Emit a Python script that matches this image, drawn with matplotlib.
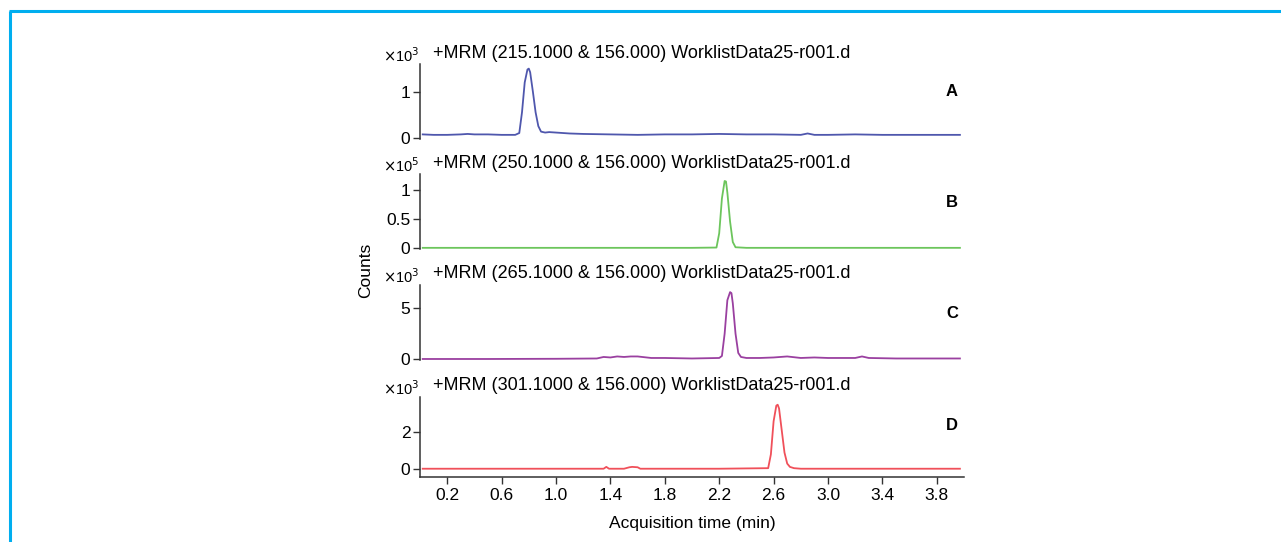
import matplotlib
matplotlib.use('Agg')
import matplotlib.pyplot as plt

W, H = 1281, 542

# trace A, x10^3 counts
tA = [0.02, 0.1, 0.2, 0.3, 0.35, 0.4, 0.5, 0.6, 0.7, 0.73, 0.75, 0.77, 0.79, 0.80, 0.81, 0.83, 0.85, 0.87, 0.89,
      0.92, 0.95, 1.0, 1.1, 1.2, 1.4, 1.6, 1.8, 2.0, 2.2, 2.4, 2.6, 2.8, 2.85, 2.9, 3.0, 3.2, 3.4, 3.6, 3.8, 3.97]
vA = [0.07, 0.06, 0.06, 0.07, 0.08, 0.07, 0.07, 0.06, 0.06, 0.10, 0.55, 1.20, 1.48, 1.50, 1.42, 1.00, 0.55, 0.25, 0.13,
      0.11, 0.12, 0.11, 0.09, 0.08, 0.07, 0.06, 0.07, 0.07, 0.08, 0.07, 0.07, 0.06, 0.09, 0.06, 0.06, 0.07, 0.06, 0.06, 0.06, 0.06]

# trace B, x10^5 counts
tB = [0.02, 1.0, 2.0, 2.18, 2.20, 2.22, 2.24, 2.25, 2.26, 2.28, 2.30, 2.32, 2.4, 3.0, 3.97]
vB = [0, 0, 0, 0.005, 0.25, 0.85, 1.15, 1.14, 0.95, 0.45, 0.10, 0.01, 0, 0, 0]

# trace C, x10^3 counts
tC = [0.02, 0.5, 1.0, 1.3, 1.35, 1.4, 1.45, 1.5, 1.55, 1.6, 1.7, 1.8, 2.0, 2.2, 2.22, 2.24, 2.26, 2.28, 2.29, 2.30,
      2.32, 2.34, 2.36, 2.4, 2.5, 2.6, 2.7, 2.8, 2.9, 3.0, 3.2, 3.25, 3.3, 3.5, 3.97]
vC = [0.0, 0.0, 0.02, 0.05, 0.2, 0.15, 0.25, 0.2, 0.25, 0.25, 0.1, 0.1, 0.05, 0.1, 0.3, 2.5, 5.8, 6.6, 6.5, 5.5,
      2.5, 0.6, 0.2, 0.1, 0.1, 0.15, 0.25, 0.1, 0.15, 0.1, 0.1, 0.25, 0.1, 0.05, 0.05]

# trace D, x10^3 counts
tD = [0.02, 0.5, 1.0, 1.35, 1.37, 1.39, 1.5, 1.54, 1.56, 1.6, 1.62, 1.8, 2.2, 2.56, 2.58, 2.60, 2.62, 2.63, 2.64,
      2.66, 2.68, 2.70, 2.72, 2.75, 2.8, 3.2, 3.6, 3.97]
vD = [0.02, 0.02, 0.02, 0.02, 0.12, 0.02, 0.02, 0.1, 0.12, 0.1, 0.02, 0.02, 0.02, 0.05, 0.8, 2.6, 3.45, 3.5, 3.3,
      2.1, 0.9, 0.3, 0.12, 0.05, 0.02, 0.02, 0.02, 0.02]

titles = ['+MRM (215.1000 & 156.000) WorklistData25-r001.d',
          '+MRM (250.1000 & 156.000) WorklistData25-r001.d',
          '+MRM (265.1000 & 156.000) WorklistData25-r001.d',
          '+MRM (301.1000 & 156.000) WorklistData25-r001.d']
exps = ['3', '5', '3', '3']
letters = ['A', 'B', 'C', 'D']
yticks = [[0, 1], [0, 0.5, 1], [0, 5], [0, 2]]
yticklabels = [['0', '1'], ['0', '0.5', '1'], ['0', '5'], ['0', '2']]
xticks = [0.2, 0.6, 1.0, 1.4, 1.8, 2.2, 2.6, 3.0, 3.4, 3.8]

traces = [(tA, vA), (tB, vB), (tC, vC), (tD, vD)]
colors = ['#4f57ad', '#6cc55c', '#9a40a0', '#f0505a']
# pixel boxes (top, bottom) and y limits of each panel
boxes = [(64, 139), (174, 249), (285, 360), (397, 477)]
ylims = [(-0.03, 1.6), (-0.02, 1.27), (-0.1, 7.3), (-0.43, 3.92)]

plt.rcParams['font.family'] = ['Liberation Sans', 'DejaVu Sans']
axc = '#333333'

fig = plt.figure(figsize=(W / 100, H / 100), dpi=100)
# blue frame on top and left
fig.add_artist(plt.Line2D([10 / W, 10 / W], [0, 1 - 11 / H], color='#00aeef', lw=2.2, solid_capstyle='butt'))
fig.add_artist(plt.Line2D([9 / W, 1], [1 - 11 / H, 1 - 11 / H], color='#00aeef', lw=2.2, solid_capstyle='butt'))

left, right = 420, 964
for i in range(4):
    top, bot = boxes[i]
    ax = fig.add_axes([left / W, 1 - bot / H, (right - left) / W, (bot - top) / H])
    t, v = traces[i]
    ax.plot(t, v, color=colors[i], lw=1.3)
    ax.set_xlim(0, 4.0)
    ax.set_ylim(ylims[i])
    ax.set_yticks(yticks[i])
    ax.set_yticklabels(yticklabels[i], fontsize=12.5)
    ax.set_facecolor('none')
    for s in ['top', 'right']:
        ax.spines[s].set_visible(False)
    ax.spines['left'].set_color(axc)
    ax.spines['left'].set_linewidth(1.1)
    ax.tick_params(axis='y', length=5, width=1, color=axc, pad=2)
    if i < 3:
        ax.spines['bottom'].set_visible(False)
        ax.set_xticks([])
    else:
        ax.spines['bottom'].set_color(axc)
        ax.spines['bottom'].set_linewidth(1.1)
        ax.set_xticks(xticks)
        ax.set_xticklabels(['%.1f' % x for x in xticks], fontsize=12.5)
        ax.tick_params(axis='x', length=5, width=1, color=axc, pad=3)
        ax.set_xlabel('Acquisition time (min)', fontsize=12.5, labelpad=9)
    fig.text(383 / W, 1 - (top - 8) / H, r'$\times$10$^{%s}$' % exps[i], fontsize=10.5, va='center', ha='left')
    fig.text(433 / W, 1 - (top - 11) / H, titles[i], fontsize=13, va='center', ha='left')
    fig.text(952 / W, 1 - (top + 28) / H, letters[i], fontsize=12, fontweight='bold', va='center', ha='center')

fig.text(366 / W, 1 - 270 / H, 'Counts', rotation=90, fontsize=12.5, va='center', ha='center')

plt.savefig('out.png', dpi=100)
